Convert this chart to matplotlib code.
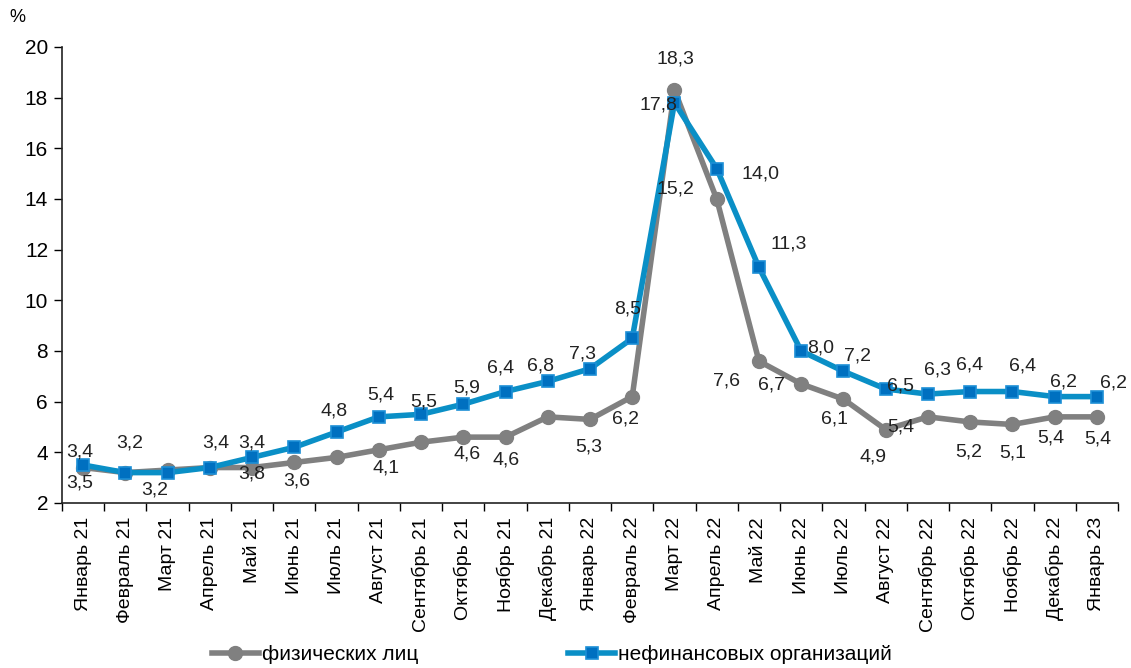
import matplotlib
matplotlib.use('Agg')
import matplotlib.pyplot as plt

# --- Data ---
months = ['Январь 21', 'Февраль 21', 'Март 21', 'Апрель 21', 'Май 21', 'Июнь 21',
          'Июль 21', 'Август 21', 'Сентябрь 21', 'Октябрь 21', 'Ноябрь 21', 'Декабрь 21',
          'Январь 22', 'Февраль 22', 'Март 22', 'Апрель 22', 'Май 22', 'Июнь 22',
          'Июль 22', 'Август 22', 'Сентябрь 22', 'Октябрь 22', 'Ноябрь 22', 'Декабрь 22',
          'Январь 23']
individuals = [3.4, 3.2, 3.3, 3.4, 3.4, 3.6, 3.8, 4.1, 4.4, 4.6, 4.6, 5.4, 5.3, 6.2,
               18.3, 14.0, 7.6, 6.7, 6.1, 4.9, 5.4, 5.2, 5.1, 5.4, 5.4]
companies = [3.5, 3.2, 3.2, 3.4, 3.8, 4.2, 4.8, 5.4, 5.5, 5.9, 6.4, 6.8, 7.3, 8.5,
             17.8, 15.2, 11.3, 8.0, 7.2, 6.5, 6.3, 6.4, 6.4, 6.2, 6.2]
series_names = ['физических лиц', 'нефинансовых организаций']

# label offsets (pixels) for each point, None = no label
ind_offsets = [(-3, 16), None, None, None, (0, 25), (2, -19), None, (7, -18), None,
               (4, -17), (1, -23), None, (-1, -28), (-7, -22), (1, 31), (44, 25),
               (-32, -20), (-30, -1), (-9, -20), (-13, -27), (-27, -10), (-1, -30),
               (0, -29), (-4, -21), (1, -22)]
comp_offsets = [(-3, -18), (4, 30), (-13, -17), (6, 25), (0, -17), None, (-2, 21),
                (2, 22), (3, 12), (3, 16), (-5, 24), (-7, 15), (-7, 15), (-5, 29),
                (-16, -2), (-41, -20), (30, 23), (19, 3), (14, 15), (15, 3), (10, 24),
                (-1, 27), (10, 26), (9, 15), (17, 14)]

plt.rcParams['font.family'] = ['Liberation Sans', 'DejaVu Sans']

GREY = '#808080'
BLUE_LINE = '#0a8fc6'
BLUE_MARK = '#0070c0'

fig = plt.figure(figsize=(11.31, 6.68), dpi=100)
ax = fig.add_axes([62 / 1131, 165 / 668, (1118 - 62) / 1131, (503 - 47) / 668])

x = list(range(len(months)))
ax.plot(x, individuals, color=GREY, lw=4, marker='o', ms=10, mfc=GREY, mec=GREY,
        label=series_names[0], zorder=3)
ax.plot(x, companies, color=BLUE_LINE, lw=4, marker='s', ms=9, mfc=BLUE_MARK,
        mec='#1c8fd6', mew=1.2, label=series_names[1], zorder=4)

for vals, offs in ((individuals, ind_offsets), (companies, comp_offsets)):
    for i, (v, off) in enumerate(zip(vals, offs)):
        if off is None:
            continue
        ax.annotate(f'{v:.1f}'.replace('.', ','), (i, v), xytext=off,
                    textcoords='offset pixels', ha='center', va='center',
                    fontsize=14, color='#222222', zorder=5)

ax.set_xlim(-0.5, len(months) - 0.5)
ax.set_ylim(2, 20)
ax.set_yticks(range(2, 21, 2))
ax.set_yticklabels([str(v) for v in range(2, 21, 2)], fontsize=15)
ax.set_xticks(x)
ax.set_xticklabels(months, rotation=90, fontsize=14)
ax.set_xticks([i - 0.5 for i in range(len(months) + 1)], minor=True)
ax.tick_params(axis='x', which='major', length=0, pad=10)
ax.tick_params(axis='x', which='minor', length=6, width=1)
ax.tick_params(axis='y', length=6, width=1, pad=4)
for s in ('top', 'right'):
    ax.spines[s].set_visible(False)
for s in ('left', 'bottom'):
    ax.spines[s].set_linewidth(1.2)
    ax.spines[s].set_color('#222222')

fig.text(17 / 1131, 1 - 18 / 668, '%', fontsize=13, ha='center', va='center')

fig.legend(loc='center', bbox_to_anchor=(552 / 1131, 1 - 655 / 668), ncol=2, frameon=False,
           fontsize=15, handlelength=2.25, handletextpad=0.15, columnspacing=7.2)

fig.savefig('out.png', dpi=100)
